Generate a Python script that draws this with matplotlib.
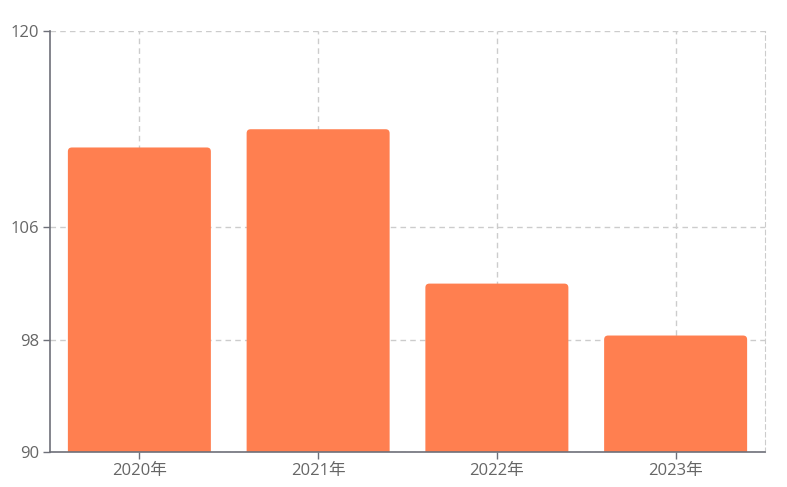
import matplotlib.pyplot as plt
from matplotlib.patches import FancyBboxPatch

plt.rcParams['font.family'] = ['Open Sans', 'Noto Sans CJK SC', 'DejaVu Sans']

years = ['2020年', '2021年', '2022年', '2023年']
values = [111.7, 113.0, 102.0, 98.3]
y_ticks = [90, 98, 106, 120]

axis_color = '#6e7079'
bar_color = '#ff7f50'

fig = plt.figure(figsize=(7.87, 4.87), dpi=100)
ax = fig.add_axes([50 / 787, 1 - 452 / 487, 715 / 787, 421 / 487])

x = list(range(len(years)))
bars = ax.bar(x, [v - 89 for v in values], bottom=89, width=0.8, color=bar_color)

# swap the plain bars for ones with rounded corners
px_x = 715 / 4.0
px_y = 421 / 30.0
for b in bars:
    x0, y0 = b.get_x(), b.get_y()
    w, h = b.get_width(), b.get_height()
    b.remove()
    p = FancyBboxPatch((x0, y0), w, h,
                       boxstyle='round,pad=0,rounding_size=%f' % (4 / px_x),
                       mutation_aspect=px_x / px_y,
                       facecolor=bar_color, edgecolor='none', zorder=2)
    ax.add_patch(p)

ax.set_xlim(-0.5, len(years) - 0.5)
ax.set_ylim(90, 120)
ax.set_yticks(y_ticks)
ax.set_xticks(x)
ax.set_xticklabels(years)

ax.grid(True, linestyle=(0, (4, 3)), color='#cccccc', linewidth=1, zorder=0)
ax.set_axisbelow(True)

ax.spines['top'].set_visible(False)
ax.spines['right'].set_linestyle((0, (4, 3)))
ax.spines['right'].set_color('#cccccc')
ax.spines['left'].set_color(axis_color)
ax.spines['bottom'].set_color(axis_color)
ax.spines['left'].set_linewidth(1.2)
ax.spines['bottom'].set_linewidth(1.2)

ax.tick_params(axis='both', colors=axis_color, labelcolor='#666666',
               labelsize=12, length=5, width=1)
ax.tick_params(axis='x', pad=3)
ax.tick_params(axis='y', pad=3)

fig.savefig('out.png', dpi=100)
